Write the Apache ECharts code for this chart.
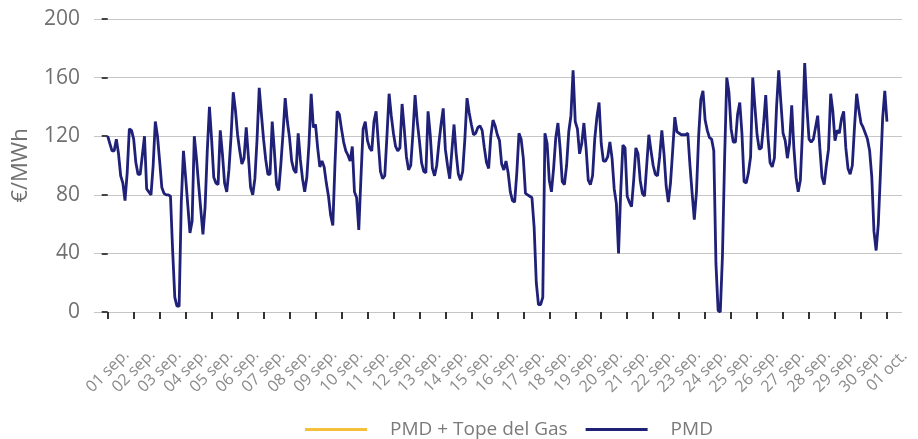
<!DOCTYPE html>
<html style="height: 100%;">
<head>
    <meta charset="utf-8">
    <title>PMD septiembre</title>
    <script type="text/javascript" src="https://cdn.jsdelivr.net/npm/echarts@6/dist/echarts.min.js"></script>
</head>
<body style="height: 100%; margin: 0; background: #fff;">
    <div id="container" style="width: 918px; height: 439px;"></div>
    <script type="text/javascript">
        // etiquetas de los días (una marca cada 24 h)
        var dias = ['01 sep.', '02 sep.', '03 sep.', '04 sep.', '05 sep.', '06 sep.', '07 sep.', '08 sep.',
            '09 sep.', '10 sep.', '11 sep.', '12 sep.', '13 sep.', '14 sep.', '15 sep.', '16 sep.',
            '17 sep.', '18 sep.', '19 sep.', '20 sep.', '21 sep.', '22 sep.', '23 sep.', '24 sep.',
            '25 sep.', '26 sep.', '27 sep.', '28 sep.', '29 sep.', '30 sep.', '01 oct.'];

        // PMD cada 2 horas (00h, 02h ... 22h), €/MWh
        var pmd = [
            120, 115, 110, 110, 118, 108, 93, 88, 76, 95, 125, 124,
            118, 102, 94, 94, 107, 120, 84, 82, 80, 100, 130, 120,
            103, 85, 81, 80, 80, 79, 42, 10, 4, 4, 75, 110,
            92, 73, 54, 62, 120, 105, 87, 70, 53, 72, 110, 140,
            118, 92, 88, 87, 124, 108, 88, 82, 97, 120, 150, 138,
            121, 110, 101, 105, 126, 106, 85, 80, 91, 118, 153, 135,
            118, 104, 94, 94, 130, 110, 87, 83, 101, 122, 146, 130,
            119, 103, 97, 95, 122, 104, 91, 82, 92, 115, 149, 126,
            128, 112, 99, 103, 99, 88, 79, 66, 59, 101, 137, 135,
            125, 116, 110, 107, 103, 113, 82, 78, 56, 92, 125, 130,
            117, 112, 110, 130, 137, 116, 96, 91, 93, 120, 149, 134,
            122, 113, 110, 112, 142, 125, 106, 97, 100, 122, 148, 130,
            117, 102, 96, 95, 137, 121, 98, 93, 100, 115, 128, 139,
            111, 100, 91, 110, 128, 108, 94, 90, 96, 118, 146, 136,
            128, 121, 122, 126, 127, 124, 112, 102, 98, 120, 131, 127,
            121, 117, 101, 97, 103, 95, 82, 76, 75, 95, 122, 118,
            105, 81, 80, 79, 78, 58, 20, 5, 5, 10, 122, 115,
            90, 82, 98, 119, 129, 112, 89, 87, 100, 123, 134, 165,
            130, 125, 108, 115, 129, 112, 90, 87, 93, 118, 133, 143,
            115, 103, 103, 106, 116, 105, 84, 74, 40, 82, 114, 112,
            79, 75, 72, 90, 112, 108, 90, 81, 79, 100, 121, 110,
            100, 94, 93, 106, 124, 108, 86, 75, 88, 110, 133, 123,
            122, 121, 121, 121, 122, 100, 81, 63, 82, 120, 145, 151,
            131, 124, 119, 118, 110, 33, 1, 0, 38, 105, 160, 150,
            125, 116, 116, 135, 143, 122, 89, 88, 95, 106, 160, 140,
            121, 111, 112, 128, 148, 120, 102, 99, 105, 140, 165, 143,
            122, 117, 105, 115, 141, 112, 92, 82, 90, 124, 170, 140,
            118, 116, 118, 126, 134, 112, 92, 87, 100, 111, 149, 137,
            117, 124, 122, 132, 137, 112, 98, 94, 100, 126, 149, 138,
            129, 126, 122, 118, 110, 92, 55, 42, 60, 95, 132, 151,
            130
        ];
        // PMD + Tope del Gas: no aparece en el gráfico, solo en la leyenda
        var pmdTope = [];

        var pasoHoras = 2;
        var ticksDias = dias.map(function (d, i) { return i * 24; });

        var dom = document.getElementById("container");
        var myChart = echarts.init(dom);
        var option = null;

        var fuente = '"Open Sans", "Noto Sans", sans-serif';

        option = {
            animation: false,
            grid: { left: 94, right: 16, top: 19, bottom: 127 },
            legend: {
                left: 300,
                top: 415,
                icon: 'rect',
                itemWidth: 62,
                itemHeight: 3,
                itemGap: 18,
                textStyle: {
                    color: '#7a7a7a',
                    fontSize: 19,
                    fontFamily: fuente,
                    padding: [0, 0, 0, 18]
                },
                data: ['PMD + Tope del Gas', 'PMD']
            },
            xAxis: {
                type: 'value',
                min: -12.66,
                max: 733.9,
                offset: 14,
                axisLine: { show: false },
                splitLine: { show: false },
                axisTick: {
                    show: true,
                    customValues: ticksDias,
                    length: 7,
                    lineStyle: { color: '#333', width: 2 }
                },
                axisLabel: {
                    customValues: ticksDias,
                    rotate: 45,
                    align: 'center',
                    verticalAlign: 'middle',
                    margin: 45,
                    color: '#8a8a8a',
                    fontSize: 16,
                    fontFamily: fuente,
                    formatter: function (v) { return dias[Math.round(v / 24)]; }
                }
            },
            yAxis: {
                type: 'value',
                min: 0,
                max: 200,
                interval: 40,
                offset: 2,
                name: '€/MWh',
                nameLocation: 'middle',
                nameGap: 60,
                nameTextStyle: { color: '#707070', fontSize: 22, fontFamily: fuente },
                axisLine: { show: false },
                axisTick: { show: true, length: 6, lineStyle: { color: '#444', width: 2 } },
                axisLabel: { margin: 12, color: '#707070', fontSize: 21, fontFamily: fuente },
                splitLine: { lineStyle: { color: '#c6c6c6', width: 1 } }
            },
            series: [
                {
                    name: 'PMD + Tope del Gas',
                    type: 'line',
                    showSymbol: false,
                    color: '#f4bf3a',
                    lineStyle: { width: 2.8 },
                    data: pmdTope
                },
                {
                    name: 'PMD',
                    type: 'line',
                    showSymbol: false,
                    color: '#1f2078',
                    lineStyle: { width: 2.8 },
                    data: pmd.map(function (v, i) { return [i * pasoHoras, v]; })
                }
            ]
        };

        if (option && typeof option === "object") {
            myChart.setOption(option, true);
        }
    </script>
</body>
</html>
